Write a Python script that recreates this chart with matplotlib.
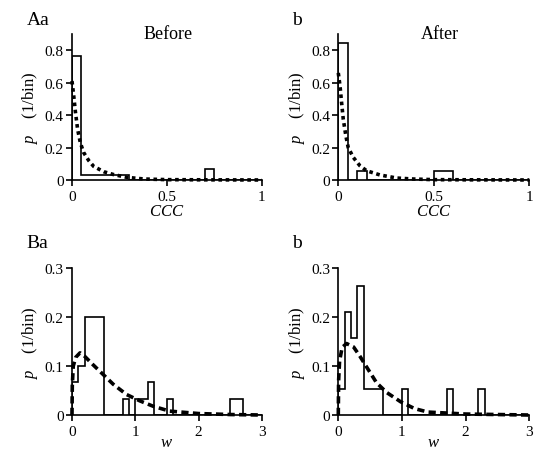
import numpy as np
import matplotlib
matplotlib.use("Agg")
import matplotlib.pyplot as plt

plt.rcParams["font.family"] = "serif"
plt.rcParams["font.serif"] = ["Liberation Serif", "DejaVu Serif"]
plt.rcParams["mathtext.fontset"] = "custom"
plt.rcParams["mathtext.it"] = "Liberation Serif:italic"
plt.rcParams["mathtext.rm"] = "Liberation Serif"

# --- histograms (probability per bin) ---
ccc_edges = np.linspace(0, 1, 21)
ccc_before = [0.767, 0.033, 0.033, 0.033, 0.033, 0.033, 0, 0, 0, 0,
              0, 0, 0, 0, 0.067, 0, 0, 0, 0, 0]
ccc_after = [0.842, 0, 0.053, 0, 0, 0, 0, 0, 0, 0,
             0.053, 0.053, 0, 0, 0, 0, 0, 0, 0, 0]

w_edges = np.linspace(0, 3, 31)
w_before = [0.067, 0.1, 0.2, 0.2, 0.2, 0, 0, 0, 0.033, 0,
            0.033, 0.033, 0.067, 0, 0, 0.033, 0, 0, 0, 0,
            0, 0, 0, 0, 0, 0.033, 0.033, 0, 0, 0]
w_after = [0.053, 0.21, 0.158, 0.263, 0.053, 0.053, 0.053, 0, 0, 0,
           0.053, 0, 0, 0, 0, 0, 0, 0.053, 0, 0,
           0, 0, 0.053, 0, 0, 0, 0, 0, 0, 0]

# --- fitted curves ---
ccc_fit_x_before = [0, 0.009, 0.018, 0.03, 0.044, 0.061, 0.088, 0.114, 0.167, 0.22, 0.29, 0.38, 0.5, 0.7, 1.0]
ccc_fit_y_before = [0.61, 0.52, 0.42, 0.31, 0.23, 0.17, 0.12, 0.084, 0.051, 0.033, 0.016, 0.006, 0.002, 0.001, 0]
ccc_fit_x_after = [0, 0.009, 0.017, 0.026, 0.04, 0.052, 0.078, 0.113, 0.148, 0.218, 0.305, 0.39, 0.5, 0.7, 1.0]
ccc_fit_y_after = [0.66, 0.58, 0.48, 0.375, 0.27, 0.2, 0.14, 0.088, 0.057, 0.031, 0.012, 0.006, 0.002, 0.001, 0]

w_fit_x_before = [0, 0.005, 0.02, 0.06, 0.127, 0.2, 0.33, 0.49, 0.65, 0.86, 1.07, 1.28, 1.54, 2.0, 2.5, 3.0]
w_fit_y_before = [0, 0.06, 0.1, 0.118, 0.127, 0.12, 0.103, 0.083, 0.063, 0.042, 0.029, 0.018, 0.008, 0.003, 0.001, 0]
w_fit_x_after = [0, 0.005, 0.02, 0.06, 0.13, 0.24, 0.34, 0.45, 0.6, 0.76, 0.98, 1.2, 1.41, 2.0, 2.5, 3.0]
w_fit_y_after = [0, 0.07, 0.11, 0.138, 0.146, 0.139, 0.12, 0.097, 0.066, 0.046, 0.027, 0.013, 0.006, 0.002, 0.001, 0]

fig = plt.figure(figsize=(5.34, 4.52), dpi=100)

panels = [
    # rect, edges, hist, fit x, fit y, xmax, ymax, yticks, yticklabels, xticks, xticklabels,
    # xlabel, xlabel pad, letter, letter y, title, title x, dash
    ([0.1348, 0.5996, 0.3558, 0.323], ccc_edges, ccc_before, ccc_fit_x_before, ccc_fit_y_before,
     1, 0.9, [0, 0.2, 0.4, 0.6, 0.8], ["0", "0.2", "0.4", "0.6", "0.8"], [0, 0.5, 1], ["0", "0.5", "1"],
     "$CCC$", 0, "Aa", 1.16, "Before", 0.505, (0, (1, 1))),
    ([0.6335, 0.5996, 0.3577, 0.323], ccc_edges, ccc_after, ccc_fit_x_after, ccc_fit_y_after,
     1, 0.9, [0, 0.2, 0.4, 0.6, 0.8], ["0", "0.2", "0.4", "0.6", "0.8"], [0, 0.5, 1], ["0", "0.5", "1"],
     "$CCC$", 0, "b", 1.16, "After", 0.53, (0, (1, 1))),
    ([0.1348, 0.0796, 0.3558, 0.325], w_edges, w_before, w_fit_x_before, w_fit_y_before,
     3, 0.3, [0, 0.1, 0.2, 0.3], ["0", "0.1", "0.2", "0.3"], [0, 1, 2, 3], ["0", "1", "2", "3"],
     "$w$", -3, "Ba", 1.23, None, 0, (0, (2, 1.2))),
    ([0.6335, 0.0796, 0.3577, 0.325], w_edges, w_after, w_fit_x_after, w_fit_y_after,
     3, 0.3, [0, 0.1, 0.2, 0.3], ["0", "0.1", "0.2", "0.3"], [0, 1, 2, 3], ["0", "1", "2", "3"],
     "$w$", -3, "b", 1.23, None, 0, (0, (2, 1.2))),
]

for (rect, edges, hist, fx, fy, xmax, ymax, yt, ytl, xt, xtl,
     xlab, xpad, letter, letter_y, title, title_x, dash) in panels:
    ax = fig.add_axes(rect)
    ax.stairs(hist, edges, baseline=0, fill=False, color="black", lw=1.2, zorder=2)
    ax.plot(fx, fy, color="black", lw=2.6, linestyle=dash, zorder=3, clip_on=False)
    ax.set_xlim(0, xmax)
    ax.set_ylim(0, ymax)
    ax.set_xticks(xt)
    ax.set_xticklabels(xtl)
    ax.set_yticks(yt)
    ax.set_yticklabels(ytl)
    for s in ["top", "right"]:
        ax.spines[s].set_visible(False)
    for s in ["left", "bottom"]:
        ax.spines[s].set_linewidth(1.2)
    ax.tick_params(direction="out", length=4, width=1.2, labelsize=11)
    ax.tick_params(axis="x", pad=3)
    ax.tick_params(axis="y", pad=2)
    ax.set_xlabel(xlab, fontsize=12, labelpad=xpad)
    ax.set_ylabel("$p$    (1/bin)", fontsize=12, labelpad=3)
    ax.text(-0.24, letter_y, letter, transform=ax.transAxes, fontsize=14, ha="left", va="top")
    if title:
        ax.text(title_x, 1.0, title, transform=ax.transAxes, fontsize=13, ha="center", va="center")

fig.savefig("out.png", dpi=100)
